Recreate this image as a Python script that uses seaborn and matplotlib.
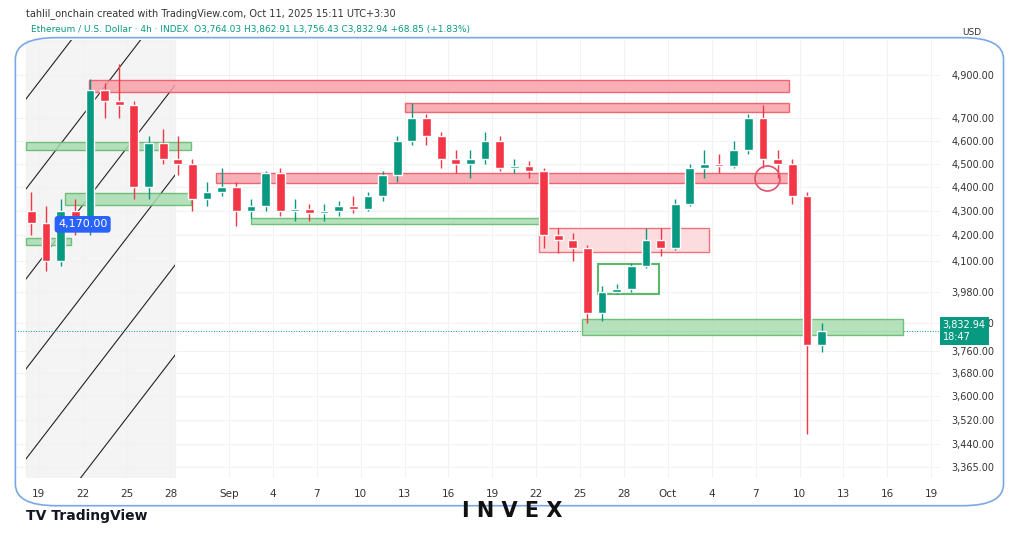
import numpy as np
import pandas as pd
import matplotlib.pyplot as plt
import seaborn as sns
from matplotlib.patches import Rectangle, FancyBboxPatch
from matplotlib.ticker import FixedLocator, NullLocator

sns.set_theme(style="white")
plt.rcParams['font.family'] = ['DejaVu Sans']

# daily candles, day 0 = Aug 19
days = list(range(-1, 54))
opens = [4300, 4250, 4100, 4300, 4230, 4830, 4780, 4760, 4400, 4590, 4520, 4500, 4350, 4380,
         4400, 4300, 4320, 4460, 4300, 4310, 4290, 4300, 4320, 4310, 4360, 4450, 4600, 4700,
         4620, 4520, 4500, 4520, 4600, 4480, 4490, 4470, 4200, 4180, 4150, 3900, 3980, 3990,
         4080, 4180, 4150, 4330, 4480, 4500, 4490, 4560, 4700, 4520, 4500, 4360, 3780]
highs = [4380, 4320, 4350, 4350, 4880, 4860, 4950, 4780, 4620, 4650, 4620, 4520, 4420, 4480,
         4420, 4350, 4470, 4480, 4350, 4330, 4330, 4340, 4360, 4380, 4470, 4620, 4770, 4720,
         4640, 4560, 4560, 4640, 4620, 4520, 4510, 4480, 4230, 4210, 4160, 4000, 4010, 4090,
         4230, 4230, 4350, 4500, 4560, 4540, 4600, 4720, 4760, 4560, 4520, 4380, 3863]
lows = [4200, 4060, 4080, 4200, 4200, 4700, 4700, 4350, 4350, 4500, 4450, 4300, 4320, 4360,
        4240, 4270, 4300, 4280, 4260, 4260, 4260, 4280, 4290, 4300, 4340, 4420, 4580, 4580,
        4480, 4460, 4440, 4500, 4470, 4460, 4440, 4150, 4130, 4100, 3860, 3870, 3970, 3980,
        4070, 4120, 4140, 4320, 4440, 4460, 4480, 4540, 4480, 4440, 4330, 3470, 3756]
closes = [4250, 4100, 4300, 4230, 4830, 4780, 4760, 4400, 4590, 4520, 4500, 4350, 4380, 4400,
          4300, 4320, 4460, 4300, 4310, 4290, 4300, 4320, 4310, 4360, 4450, 4600, 4700, 4620,
          4520, 4500, 4520, 4600, 4480, 4490, 4470, 4200, 4180, 4150, 3900, 3980, 3990, 4080,
          4180, 4150, 4330, 4480, 4500, 4490, 4560, 4700, 4520, 4500, 4360, 3780, 3833]

tick_pos = [0, 3, 6, 9, 13, 16, 19, 22, 25, 28, 31, 34, 37, 40, 43, 46, 49, 52, 55, 58, 61]
tick_lab = ['19', '22', '25', '28', 'Sep', '4', '7', '10', '13', '16', '19', '22', '25', '28',
            'Oct', '4', '7', '10', '13', '16', '19']
price_ticks = [4900, 4700, 4600, 4500, 4400, 4300, 4200, 4100, 3980, 3860, 3760, 3680,
               3600, 3520, 3440, 3365]

# zones: (x0, x1, y0, y1, kind)
zones = [(3.4, 51.3, 4821, 4877, 'red'), (25.0, 51.3, 4729, 4770, 'red'),
         (12.1, 51.8, 4418, 4460, 'red'), (-0.9, 10.4, 4560, 4595, 'green'),
         (1.8, 10.4, 4326, 4376, 'green'), (14.5, 34.2, 4245, 4269, 'green'),
         (-0.9, 2.2, 4160, 4190, 'green'), (34.2, 45.8, 4133, 4229, 'pink'),
         (38.2, 42.4, 3969, 4085, 'box'), (37.1, 59.1, 3817, 3875, 'green')]
last_price = 3832.94

df = pd.DataFrame({'day': days, 'open': opens, 'high': highs, 'low': lows, 'close': closes})
df['up'] = df['close'] >= df['open']

fig = plt.figure(figsize=(10.24, 5.38), dpi=100)
ax = fig.add_axes([0.015, 0.112, 0.903, 0.814])
ax.set_yscale('log')
ax.set_xlim(-1.6, 61.6)
ax.set_ylim(3329, 5067)

# shaded area with parallel channel lines (drawn in pixel terms)
shade = Rectangle((-0.9, 3329), 10.2, 5067 - 3329, color='#eeeeee', alpha=0.6, zorder=0)
ax.add_patch(shade)
def px(x, y):
    return (x - 15) / 925, (478 - y) / 438
for y0 in [100, 190, 280, 370, 460, 550]:
    (ax0, ay0), (ax1, ay1) = px(25, y0), px(190, y0 - 165 * 1.3)
    ln, = ax.plot([ax0, ax1], [ay0, ay1], transform=ax.transAxes, color='#222222', lw=0.8, zorder=1)
    ln.set_clip_path(shade)

for x0, x1, y0, y1, kind in zones:
    if kind == 'red':
        ax.add_patch(Rectangle((x0, y0), x1 - x0, y1 - y0, fc='#f7a1a8', ec='#f05060', lw=1, alpha=0.85, zorder=2))
    elif kind == 'pink':
        ax.add_patch(Rectangle((x0, y0), x1 - x0, y1 - y0, fc='#fbd5d8', ec='#f05060', lw=1, alpha=0.8, zorder=2))
    elif kind == 'green':
        ax.add_patch(Rectangle((x0, y0), x1 - x0, y1 - y0, fc='#a8dcb0', ec='#5cb86a', lw=1, alpha=0.85, zorder=2))
    else:
        ax.add_patch(Rectangle((x0, y0), x1 - x0, y1 - y0, fc='none', ec='#5cb86a', lw=1.5, zorder=2))

colors = np.where(df['up'], '#089981', '#f23645')
ax.vlines(df['day'] + 0.5, df['low'], df['high'], colors=colors, lw=1, zorder=3)
body_lo = np.minimum(df['open'], df['close'])
body_h = np.maximum(np.abs(df['close'] - df['open']), 3)
ax.bar(df['day'] + 0.5, body_h, bottom=body_lo, width=0.6, color=colors, zorder=4)

ax.axhline(last_price, color='#089981', lw=0.7, ls=':', zorder=1)
ax.plot(49.8, 4440, 'o', ms=18, mfc='none', mec='#e0506a', mew=1.2, zorder=5)
ax.text(3.0, 4245, '4,170.00', color='white', fontsize=8, ha='center', va='center', zorder=6,
        bbox=dict(boxstyle='round,pad=0.3', fc='#2962ff', ec='none'))

ax.xaxis.set_major_locator(FixedLocator(tick_pos))
ax.set_xticklabels(tick_lab, fontsize=7.5, color='#333333')
ax.yaxis.tick_right()
ax.yaxis.set_major_locator(FixedLocator(price_ticks))
ax.yaxis.set_minor_locator(NullLocator())
ax.set_yticklabels([f'{p:,.2f}' for p in price_ticks], fontsize=7, color='#333333')
ax.tick_params(length=0, pad=8)
ax.grid(True, color='#f2f2f2', lw=0.8)
for s in ax.spines.values():
    s.set_visible(False)

ax.text(1.003, (np.log(last_price) - np.log(3329)) / (np.log(5067) - np.log(3329)),
        '3,832.94\n18:47', transform=ax.transAxes, fontsize=7, color='white', va='center',
        bbox=dict(boxstyle='square,pad=0.3', fc='#089981', ec='none'))

fig.add_artist(FancyBboxPatch((0.015, 0.06), 0.965, 0.87, boxstyle='round,pad=0,rounding_size=0.04',
                              transform=fig.transFigure, fc='none', ec='#7aa7e8', lw=1.2))
fig.text(0.025, 0.975, 'tahlil_onchain created with TradingView.com, Oct 11, 2025 15:11 UTC+3:30',
         fontsize=7, color='#333333', va='center')
fig.text(0.03, 0.945, 'Ethereum / U.S. Dollar · 4h · INDEX  O3,764.03 H3,862.91 L3,756.43 C3,832.94 +68.85 (+1.83%)',
         fontsize=6.5, color='#089981', va='center')
fig.text(0.94, 0.94, 'USD', fontsize=6.5, color='#333333', va='center')
fig.text(0.025, 0.04, 'TV TradingView', fontsize=10, fontweight='bold', color='#131722', va='center')
fig.text(0.5, 0.05, 'I N V E X', fontsize=15, fontweight='bold', color='#111111', ha='center', va='center')

fig.savefig('out.png', dpi=100)
